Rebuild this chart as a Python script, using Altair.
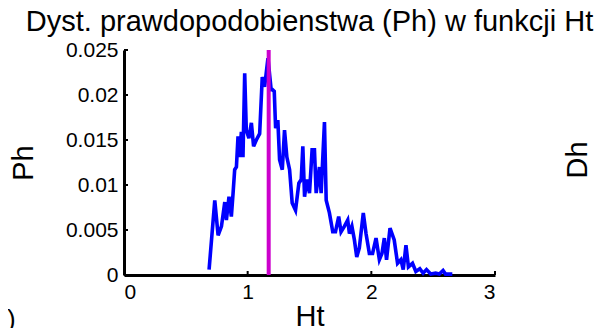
import altair as alt
import pandas as pd

ht = [0.688, 0.734, 0.761, 0.788, 0.815, 0.828, 0.849, 0.868, 0.882, 0.895, 0.909, 0.922,
      0.935, 0.949, 0.962, 0.976, 0.989, 1.01, 1.03, 1.048, 1.07, 1.097, 1.118, 1.137,
      1.164, 1.19, 1.2, 1.215, 1.226, 1.244, 1.258, 1.28, 1.298, 1.317, 1.339, 1.36,
      1.387, 1.414, 1.433, 1.446, 1.46, 1.478, 1.5, 1.521, 1.54, 1.554, 1.58, 1.594,
      1.621, 1.635, 1.661, 1.688, 1.71, 1.736, 1.755, 1.782, 1.809, 1.823, 1.843, 1.863,
      1.882, 1.903, 1.935, 1.957, 1.984, 2.01, 2.038, 2.065, 2.086, 2.105, 2.123, 2.151,
      2.185, 2.212, 2.239, 2.258, 2.28, 2.3, 2.333, 2.36, 2.392, 2.419, 2.446, 2.48,
      2.52, 2.55, 2.58, 2.6, 2.655]
ph = [0.0006, 0.0083, 0.0044, 0.0054, 0.0081, 0.0061, 0.0087, 0.0065, 0.0091, 0.0117, 0.012, 0.0154,
      0.0131, 0.0159, 0.0131, 0.0224, 0.0161, 0.0152, 0.0169, 0.0143, 0.015, 0.0157, 0.022, 0.0209,
      0.0241, 0.0206, 0.0206, 0.0204, 0.0163, 0.0172, 0.0128, 0.0117, 0.0161, 0.0131, 0.0117, 0.008,
      0.0072, 0.0102, 0.0106, 0.0143, 0.0087, 0.0106, 0.0091, 0.0139, 0.0139, 0.0091, 0.012, 0.0091,
      0.017, 0.0083, 0.0069, 0.0048, 0.0048, 0.0065, 0.0048, 0.0054, 0.0061, 0.0046, 0.0054, 0.0039,
      0.002, 0.003, 0.0069, 0.0046, 0.0024, 0.0024, 0.0041, 0.0017, 0.0024, 0.0041, 0.0017, 0.0052,
      0.0039, 0.0013, 0.0017, 0.0006, 0.0033, 0.0009, 0.0013, 0.0004, 0.0007, 0.0002, 0.0006, 0.0001,
      0.0002, 0.0001, 0.0005, 0.0001, 0.0001]
mean_ht = [1.17]
mean_ph = [0.0, 0.025]
x_ticks = [0, 1, 2, 3]
y_ticks = [0, 0.005, 0.01, 0.015, 0.02, 0.025]

df = pd.DataFrame({"Ht": ht, "Ph": ph})
dv = pd.DataFrame({"Ht": mean_ht * 2, "Ph": mean_ph})

FONT = "Liberation Sans"
xs = alt.Scale(domain=[0, 3], nice=False)
ys = alt.Scale(domain=[0, 0.025], nice=False)

line = alt.Chart(df).mark_line(color="#0000ff", strokeWidth=3.6).encode(
    x=alt.X("Ht:Q", scale=xs, title="Ht",
            axis=alt.Axis(values=x_ticks, format="d", grid=False, domainColor="black",
                          domainWidth=3, ticks=False,
                          labelFont=FONT, labelFontSize=21, labelColor="black", labelPadding=6,
                          titleFont=FONT, titleFontSize=29, titleFontWeight="normal",
                          titleColor="black", titlePadding=0)),
    y=alt.Y("Ph:Q", scale=ys, title="Ph",
            axis=alt.Axis(values=y_ticks, format="~g",
                          grid=False, domainColor="black", domainWidth=3, ticks=False,
                          labelFont=FONT, labelFontSize=21,
                          labelColor="black", labelPadding=6, titleFont=FONT,
                          titleFontSize=29, titleFontWeight="normal", titleColor="black",
                          titlePadding=27)),
)

yt = alt.Chart(pd.DataFrame({"v": y_ticks})).mark_rule(color="black", strokeWidth=2).encode(
    y=alt.Y("v:Q", scale=ys), x=alt.value(0), x2=alt.value(4)
)
xt = alt.Chart(pd.DataFrame({"v": x_ticks})).mark_rule(color="black", strokeWidth=2).encode(
    x=alt.X("v:Q", scale=xs), y=alt.value(225), y2=alt.value(221)
)

vline = alt.Chart(dv).mark_line(color="#cc00cc", strokeWidth=4).encode(
    x=alt.X("Ht:Q", scale=xs), y=alt.Y("Ph:Q", scale=ys)
)

dh = alt.Chart(pd.DataFrame({"t": ["Dh"]})).mark_text(
    font=FONT, fontSize=29, angle=270, color="black", baseline="middle"
).encode(text="t:N", x=alt.value(454), y=alt.value(110))

paren = alt.Chart(pd.DataFrame({"t": [")"]})).mark_text(
    font=FONT, fontSize=26, color="black", align="left", baseline="middle"
).encode(text="t:N", x=alt.value(-117), y=alt.value(270))

chart = alt.layer(line, vline, yt, xt, dh, paren).properties(
    width=371, height=225,
    title=alt.TitleParams("Dyst. prawdopodobienstwa (Ph) w funkcji Ht", font=FONT,
                          fontSize=29, fontWeight="normal", color="black", offset=2),
    autosize=alt.AutoSizeParams(type="none"),
    padding={"left": 116, "top": 42, "right": 108, "bottom": 53},
).configure_view(stroke=None)

chart.save("out.html", embed_options={"renderer": "svg", "actions": False})
